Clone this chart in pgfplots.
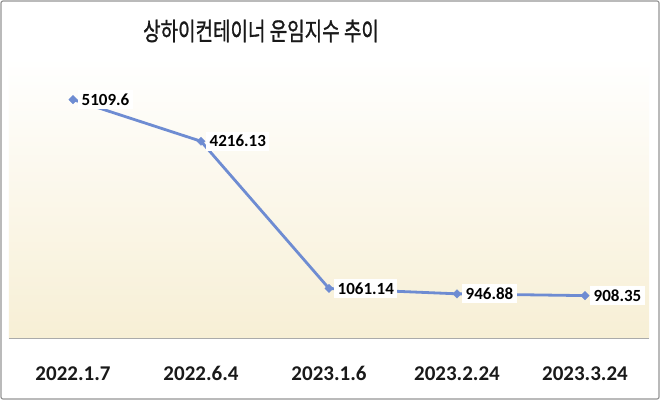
\documentclass[border=0pt]{standalone}
\usepackage{fontspec}
\setmainfont{Carlito}
\newfontfamily\kr[FakeBold=1.2]{Noto Sans CJK KR}
\usepackage{pgfplots}
\pgfplotsset{compat=1.18}
\usepackage{pgfplotstable}
\definecolor{linec}{RGB}{110,140,210}
\definecolor{cream}{RGB}{247,239,213}
\definecolor{bord}{RGB}{150,150,150}
\pgfplotstableread{
x y lab
0 5109.6 5109.6
1 4216.13 4216.13
2 1061.14 1061.14
3 946.88 946.88
4 908.35 908.35
}\datatab
\begin{document}
\begin{tikzpicture}[x=1pt,y=1pt]
\path[use as bounding box] (0,0) rectangle (660,400);
\fill[white] (0,0) rectangle (660,400);
\begin{axis}[
  at={(9pt,62pt)}, anchor=south west,
  scale only axis, width=640pt, height=280pt,
  xmin=-0.5, xmax=4.5, ymin=0, ymax=6000,
  axis background/.style={shade, top color=white, bottom color=cream},
  axis x line*=bottom, axis y line=none,
  x axis line style={draw={rgb,255:red,170;green,170;blue,170}, line width=1pt, -},
  xtick={0,1,2,3,4}, major tick length=0pt,
  xticklabels={2022.1.7,2022.6.4,2023.1.6,2023.2.24,2023.3.24},
  xticklabel style={anchor=base, yshift=-42pt, font=\fontsize{21}{24}\selectfont\bfseries, text=black!90},
  ytick=\empty,
  clip=false,
]
\addplot[color=linec, line width=2.8pt, mark=square*, mark size=3pt,
  mark options={fill=linec, draw=linec, line width=0.3pt, rotate=45},
  point meta=explicit symbolic,
  nodes near coords,
  nodes near coords style={anchor=west, xshift=5pt, fill=white, inner sep=3.5pt,
    font=\fontsize{17}{20}\selectfont\bfseries, text=black, rotate=0}]
  table[x=x, y=y, meta=lab] {\datatab};
\end{axis}
\draw[bord, line width=1.2pt, rounded corners=2pt] (1,1) rectangle (659,399);
\node[text=black!90, inner sep=0pt] at (261,369) {\scalebox{0.76}[1]{\kr\fontsize{25}{28}\selectfont 상하이컨테이너 운임지수 추이}};
\end{tikzpicture}
\end{document}
